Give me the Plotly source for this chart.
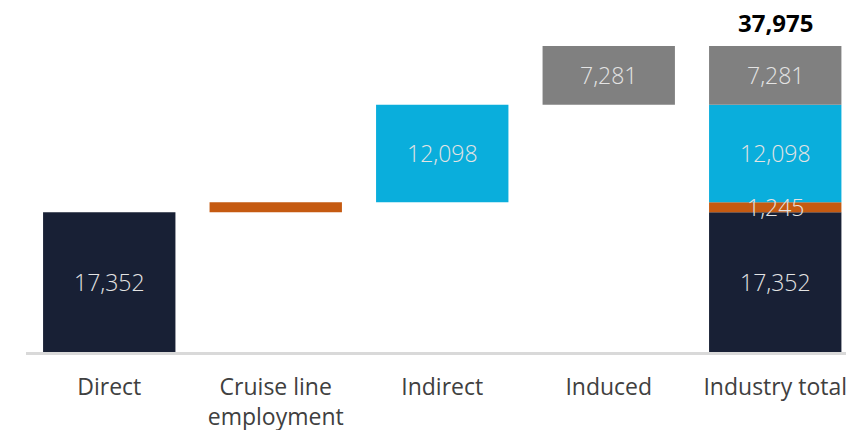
import plotly.graph_objects as go

categories = ["Direct", "Cruise line<br>employment", "Indirect", "Induced", "Industry total"]
components = ["Direct", "Cruise line employment", "Indirect", "Induced"]
values = [17352, 1245, 12098, 7281]
colors = ["#182035", "#c55a11", "#0aaedc", "#808080"]
total_label = 37975  # as printed on the chart (rounded)

fig = go.Figure()

base = 0
bases = []
for v in values:
    bases.append(base)
    base += v
total_top = base

for i, (name, v, b, c) in enumerate(zip(components, values, bases, colors)):
    fig.add_trace(go.Bar(
        x=[categories[i], categories[-1]],
        y=[v, v],
        base=[b, b],
        marker=dict(color=c, line=dict(width=0)),
        name=name,
        showlegend=False,
        hoverinfo="skip",
    ))

label_font = dict(family="Open Sans", size=23, color="#e4e4e4", weight=300)
annotations = []
for i, (v, b) in enumerate(zip(values, bases)):
    label = f"{v:,}"
    if i != 1:
        annotations.append(dict(x=categories[i], y=b + v / 2, text=label, showarrow=False,
                                font=label_font))
    annotations.append(dict(x=categories[-1], y=b + v / 2, text=label, showarrow=False,
                            font=label_font))

annotations.append(dict(x=categories[-1], y=total_top, text=f"<b>{total_label:,}</b>", showarrow=False,
                        yanchor="bottom", yshift=5,
                        font=dict(family="Open Sans", size=24, color="#000000")))

fig.update_layout(
    width=846, height=430,
    margin=dict(l=26, r=0, t=0, b=78, autoexpand=False),
    paper_bgcolor="white", plot_bgcolor="white",
    barmode="overlay",
    bargap=0.205,
    annotations=annotations,
    xaxis=dict(
        type="category",
        categoryorder="array", categoryarray=categories,
        range=[-0.5, 4.425],
        automargin=False,
        showline=True, linecolor="#d9d9d9", linewidth=3,
        ticks="", showgrid=False, zeroline=False,
        ticklabelstandoff=12,
        tickfont=dict(family="Open Sans", size=23, color="#404040"),
    ),
    yaxis=dict(
        range=[0, 43680], visible=False, showgrid=False, zeroline=False, automargin=False,
    ),
)

fig.write_html(
    "out.html",
    config={"displayModeBar": False},
    post_script="document.body.style.margin='0';document.body.style.overflow='hidden';",
)
